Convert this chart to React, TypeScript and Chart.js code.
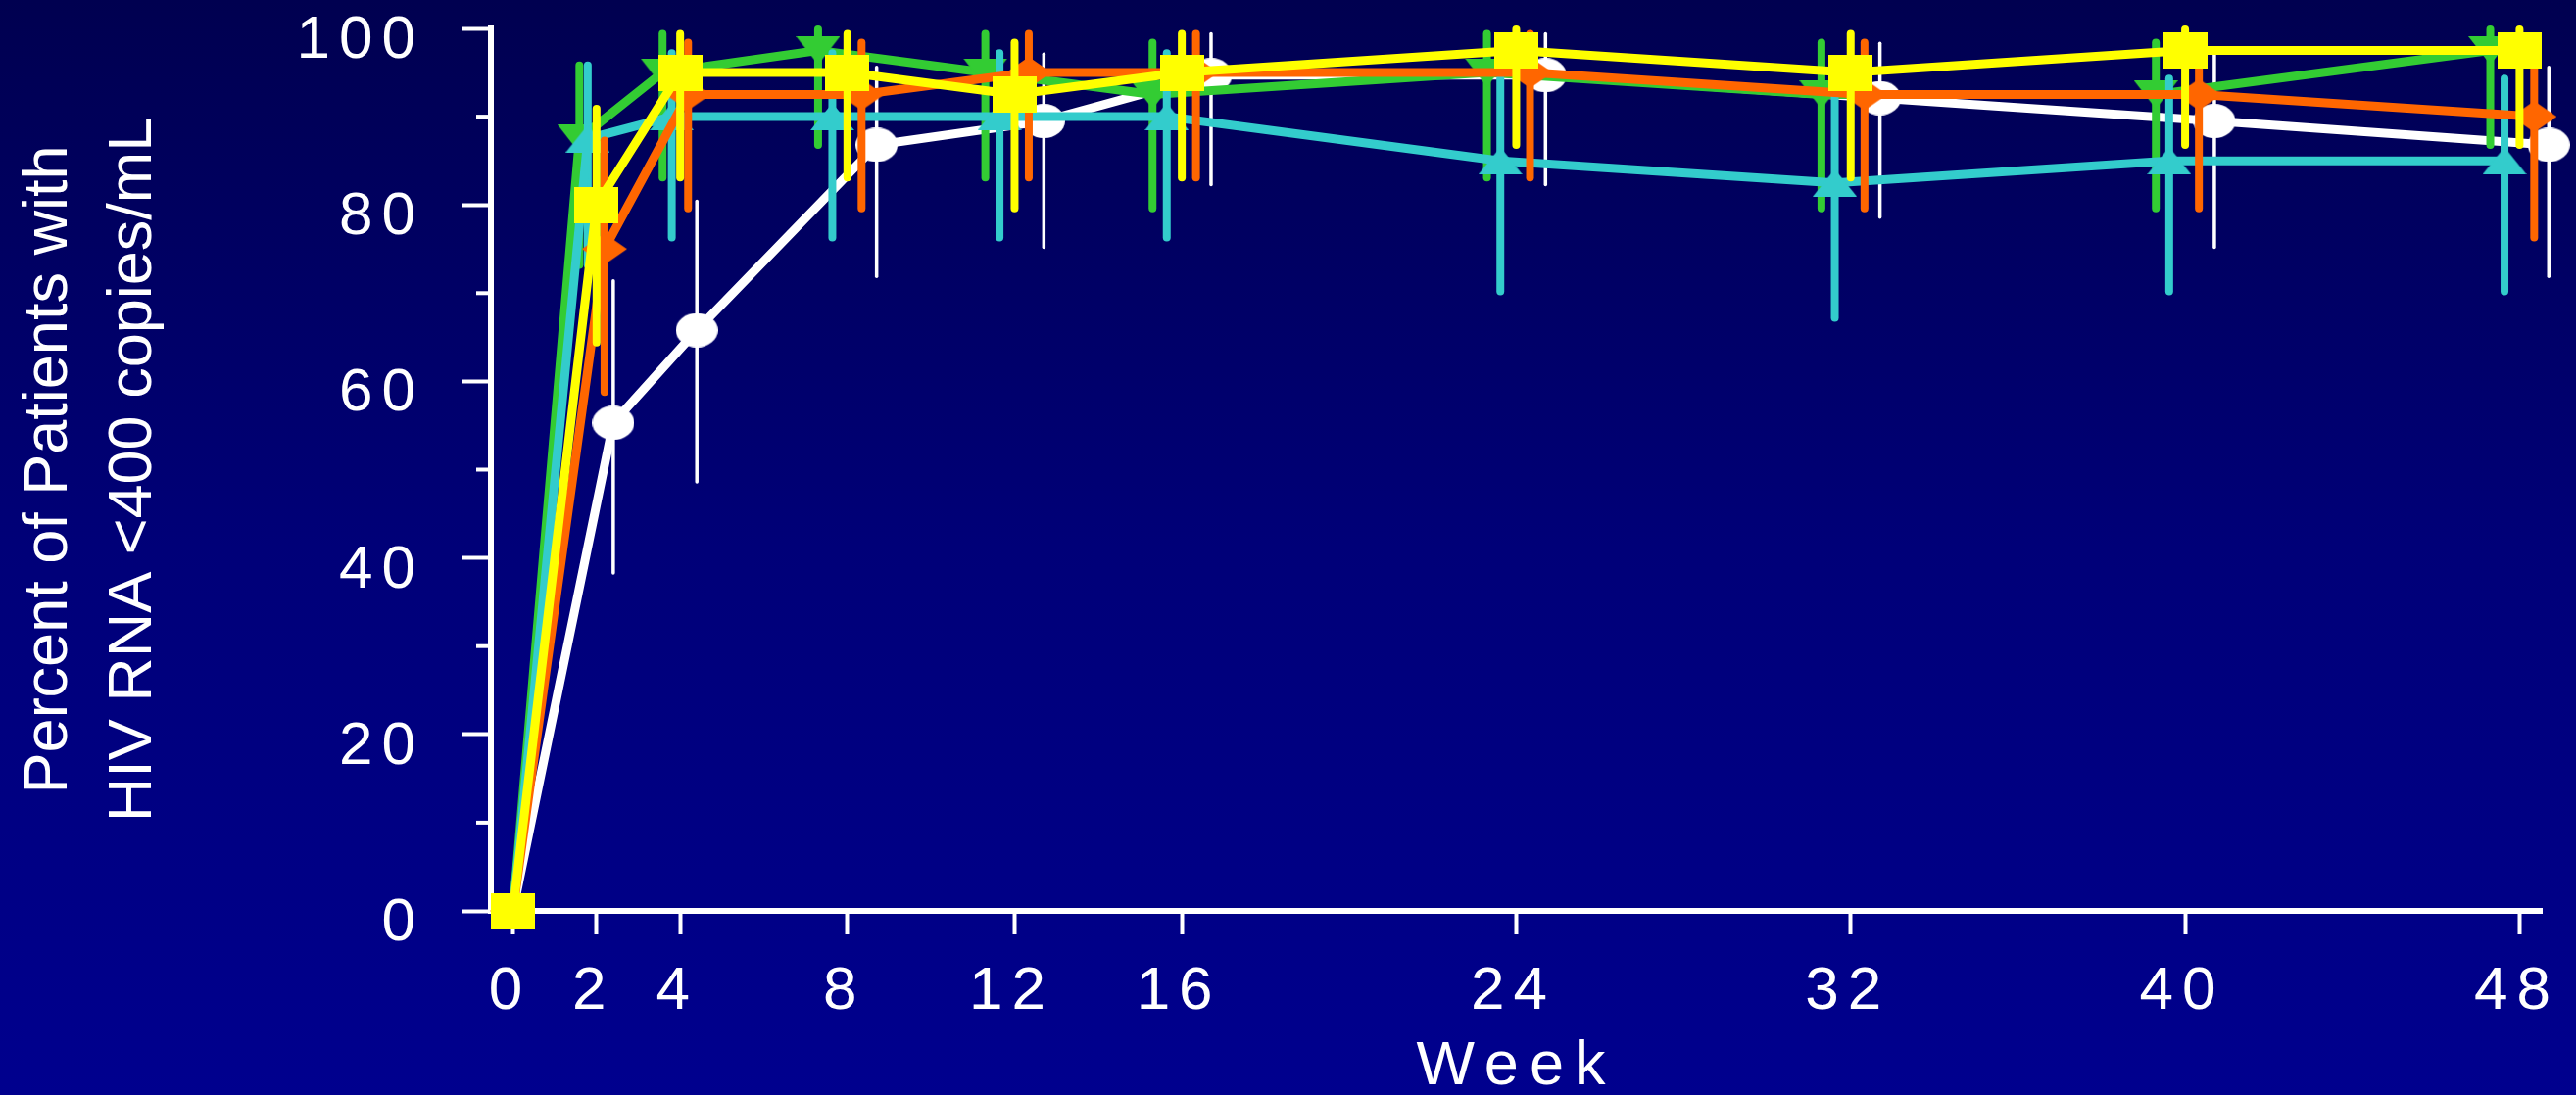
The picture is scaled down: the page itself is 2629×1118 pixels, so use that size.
import React, { useEffect, useRef } from 'react';
import { Chart, registerables } from 'chart.js';

Chart.register(...registerables);

// ---------- data ----------
const weeks = [0, 2, 4, 8, 12, 16, 24, 32, 40, 48];
const xTickLabels = ['0', '2', '4', '8', '12', '16', '24', '32', '40', '48'];
const yMinorTicks = [10, 30, 50, 70, 90];

// plotted x positions (weeks, horizontally staggered as in the picture)
const whiteX = [0, 2.4, 4.4, 8.7, 12.7, 16.7, 24.7, 32.7, 40.7, 48.7];
const greenX = [0, 1.59, 3.58, 7.3, 11.3, 15.3, 23.3, 31.3, 39.3, 47.3];
const cyanX = [0, 1.79, 3.8, 7.64, 11.64, 15.64, 23.62, 31.62, 39.62, 47.64];
const orangeX = [0, 2.19, 4.19, 8.34, 12.34, 16.34, 24.33, 32.33, 40.33, 48.35];
const yellowX = [0, 2, 4, 8, 12, 16, 24, 32, 40, 48];

// percent of patients
const whiteY = [0, 55.3, 65.8, 86.8, 89.5, 94.7, 94.7, 92.1, 89.5, 86.8];
const whiteLow = [null, 38.3, 48.6, 71.9, 75.2, 82.3, 82.3, 78.6, 75.2, 71.9];
const whiteHigh = [null, 71.4, 80.4, 95.6, 97.1, 99.4, 99.4, 98.3, 97.1, 95.6];

const greenY = [0, 87.5, 95, 97.5, 95, 92.5, 95, 92.5, 92.5, 97.5];
const greenLow = [null, 73.2, 83.1, 86.8, 83.1, 79.6, 83.1, 79.6, 79.6, 86.8];
const greenHigh = [null, 95.8, 99.4, 99.9, 99.4, 98.4, 99.4, 98.4, 98.4, 99.9];

const cyanY = [0, 87.5, 90, 90, 90, 90, 85, 82.5, 85, 85];
const cyanLow = [null, 73.2, 76.3, 76.3, 76.3, 76.3, 70.2, 67.2, 70.2, 70.2];
const cyanHigh = [null, 95.8, 97.2, 97.2, 97.2, 97.2, 94.3, 92.7, 94.3, 94.3];

const orangeY = [0, 75, 92.5, 92.5, 95, 95, 95, 92.5, 92.5, 90];
const orangeLow = [null, 58.8, 79.6, 79.6, 83.1, 83.1, 83.1, 79.6, 79.6, 76.3];
const orangeHigh = [null, 87.3, 98.4, 98.4, 99.4, 99.4, 99.4, 98.4, 98.4, 97.2];

const yellowY = [0, 80, 95, 95, 92.5, 95, 97.5, 95, 97.5, 97.5];
const yellowLow = [null, 64.4, 83.1, 83.1, 79.6, 83.1, 86.8, 83.1, 86.8, 86.8];
const yellowHigh = [null, 90.9, 99.4, 99.4, 98.4, 99.4, 99.9, 99.4, 99.9, 99.9];

const FONT = '"Liberation Sans", Arial, Helvetica, sans-serif';

type Marker = 'ellipse' | 'triDown' | 'triUp' | 'diamond' | 'square';

function makeMarker(kind: Marker, w: number, h: number, color: string): HTMLCanvasElement {
  const c = document.createElement('canvas');
  c.width = w;
  c.height = h;
  const g = c.getContext('2d') as CanvasRenderingContext2D;
  g.fillStyle = color;
  g.beginPath();
  if (kind === 'ellipse') {
    g.ellipse(w / 2, h / 2, w / 2, h / 2, 0, 0, Math.PI * 2);
  } else if (kind === 'triDown') {
    g.moveTo(0, 0); g.lineTo(w, 0); g.lineTo(w / 2, h); g.closePath();
  } else if (kind === 'triUp') {
    g.moveTo(w / 2, 0); g.lineTo(w, h); g.lineTo(0, h); g.closePath();
  } else if (kind === 'diamond') {
    g.moveTo(w / 2, 0); g.lineTo(w, h / 2); g.lineTo(w / 2, h); g.lineTo(0, h / 2); g.closePath();
  } else {
    g.rect(0, 0, w, h);
  }
  g.fill();
  return c;
}

export default function App() {
  const ref = useRef<HTMLCanvasElement | null>(null);

  useEffect(() => {
    if (!ref.current) return;

    const series = [
      { label: 'Yellow', xs: yellowX, ys: yellowY, lo: yellowLow, hi: yellowHigh, color: '#FFFF00', errW: 8, marker: makeMarker('square', 45, 37, '#FFFF00'), order: 0 },
      { label: 'Orange', xs: orangeX, ys: orangeY, lo: orangeLow, hi: orangeHigh, color: '#FF6600', errW: 8, marker: makeMarker('diamond', 46, 32, '#FF6600'), order: 1 },
      { label: 'Cyan', xs: cyanX, ys: cyanY, lo: cyanLow, hi: cyanHigh, color: '#33CCCC', errW: 8, marker: makeMarker('triUp', 45, 28, '#33CCCC'), order: 2 },
      { label: 'Green', xs: greenX, ys: greenY, lo: greenLow, hi: greenHigh, color: '#33CC33', errW: 8, marker: makeMarker('triDown', 45, 29, '#33CC33'), order: 3 },
      { label: 'White', xs: whiteX, ys: whiteY, lo: whiteLow, hi: whiteHigh, color: '#FFFFFF', errW: 3.5, marker: makeMarker('ellipse', 43, 35, '#FFFFFF'), order: 4 },
    ];

    const errorBarPlugin = {
      id: 'errorBars',
      beforeDatasetDraw(chart: any, args: any) {
        const s = series[args.index];
        if (!s) return;
        const xs = chart.scales.x;
        const ys = chart.scales.y;
        const ctx = chart.ctx as CanvasRenderingContext2D;
        ctx.save();
        ctx.strokeStyle = s.color;
        ctx.lineWidth = s.errW;
        ctx.lineCap = 'round';
        s.xs.forEach((xv, i) => {
          const lo = s.lo[i];
          const hi = s.hi[i];
          if (lo == null || hi == null) return;
          const px = xs.getPixelForValue(xv);
          ctx.beginPath();
          ctx.moveTo(px, ys.getPixelForValue(lo));
          ctx.lineTo(px, ys.getPixelForValue(hi));
          ctx.stroke();
        });
        ctx.restore();
      },
    };

    const spacingPlugin = {
      id: 'spacingAndMinor',
      beforeLayout(chart: any) {
        chart.ctx.letterSpacing = '9px';
      },
      beforeDraw(chart: any) {
        chart.ctx.letterSpacing = '9px';
        const spacing: Record<string, string> = { x: '11px', y: '0px' };
        Object.keys(spacing).forEach((id) => {
          const sc: any = chart.scales[id];
          if (sc && !sc.__patched) {
            const orig = sc.drawTitle;
            sc.drawTitle = function (this: any) {
              const c = this.ctx;
              const prev = c.letterSpacing;
              c.letterSpacing = spacing[id];
              orig.call(this);
              c.letterSpacing = prev;
            };
            sc.__patched = true;
          }
        });
      },
      beforeDatasetsDraw(chart: any) {
        const ys = chart.scales.y;
        const left = chart.chartArea.left;
        const ctx = chart.ctx as CanvasRenderingContext2D;
        ctx.save();
        ctx.strokeStyle = '#FFFFFF';
        ctx.lineWidth = 4;
        yMinorTicks.forEach((v) => {
          const y = ys.getPixelForValue(v);
          ctx.beginPath();
          ctx.moveTo(left - 15, y);
          ctx.lineTo(left, y);
          ctx.stroke();
        });
        ctx.restore();
      },
    };

    const chart = new Chart(ref.current, {
      type: 'line',
      data: {
        datasets: series.map((s) => ({
          label: s.label,
          data: s.xs.map((x, i) => ({ x, y: s.ys[i] })),
          borderColor: s.color,
          backgroundColor: s.color,
          borderWidth: 9,
          pointStyle: s.marker as any,
          pointRadius: 20,
          pointHoverRadius: 20,
          tension: 0,
          fill: false,
          clip: false as any,
          order: s.order,
        })),
      },
      options: {
        animation: false,
        responsive: false,
        devicePixelRatio: 1,
        events: [],
        layout: { padding: { left: 0, right: 35, top: 21, bottom: 0 } },
        plugins: {
          legend: { display: false },
          tooltip: { enabled: false },
        },
        scales: {
          x: {
            type: 'linear',
            min: -0.527,
            max: 48.53,
            afterBuildTicks: (scale: any) => {
              scale.ticks = weeks.map((v) => ({ value: v }));
            },
            afterFit: (scale: any) => {
              scale.height = 188;
              scale.paddingLeft = 0;
              scale.paddingRight = 0;
            },
            grid: {
              drawOnChartArea: false,
              drawTicks: true,
              tickLength: 24,
              tickWidth: 4,
              tickColor: '#FFFFFF',
            },
            border: { display: true, color: '#FFFFFF', width: 6 },
            ticks: {
              color: '#FFFFFF',
              font: { family: FONT, size: 62 },
              padding: 22,
              autoSkip: false,
              maxRotation: 0,
              minRotation: 0,
              labelOffset: -3,
              callback: (v: any) => {
                const i = weeks.indexOf(Number(v));
                return i >= 0 ? xTickLabels[i] : '';
              },
            },
            title: {
              display: true,
              text: 'Week',
              color: '#FFFFFF',
              font: { family: FONT, size: 63, lineHeight: 0.9 },
              padding: 0,
            },
          },
          y: {
            min: 0,
            max: 100,
            afterFit: (scale: any) => {
              scale.width = 501;
              scale.paddingTop = 0;
              scale.paddingBottom = 0;
            },
            grid: {
              drawOnChartArea: false,
              drawTicks: true,
              tickLength: 29,
              tickWidth: 4,
              tickColor: '#FFFFFF',
            },
            border: { display: true, color: '#FFFFFF', width: 6 },
            ticks: {
              stepSize: 20,
              color: '#FFFFFF',
              font: { family: FONT, size: 62, lineHeight: 0.5 },
              padding: 39,
              labelOffset: 13,
            },
            title: {
              display: true,
              text: ['Percent of Patients with', 'HIV RNA <400 copies/mL'],
              color: '#FFFFFF',
              font: { family: FONT, size: 63, lineHeight: 1.375 },
              padding: { top: 7, bottom: 0 },
            },
          },
        },
      },
      plugins: [errorBarPlugin, spacingPlugin],
    } as any);

    return () => {
      chart.destroy();
    };
  }, []);

  return (
    <div
      style={{
        position: 'fixed',
        left: 0,
        top: 0,
        width: 2629,
        height: 1118,
        background: 'linear-gradient(to bottom, #000050 0%, #000078 50%, #00008E 100%)',
        overflow: 'hidden',
      }}
    >
      <canvas ref={ref} width={2629} height={1118} style={{ display: 'block' }} />
    </div>
  );
}
